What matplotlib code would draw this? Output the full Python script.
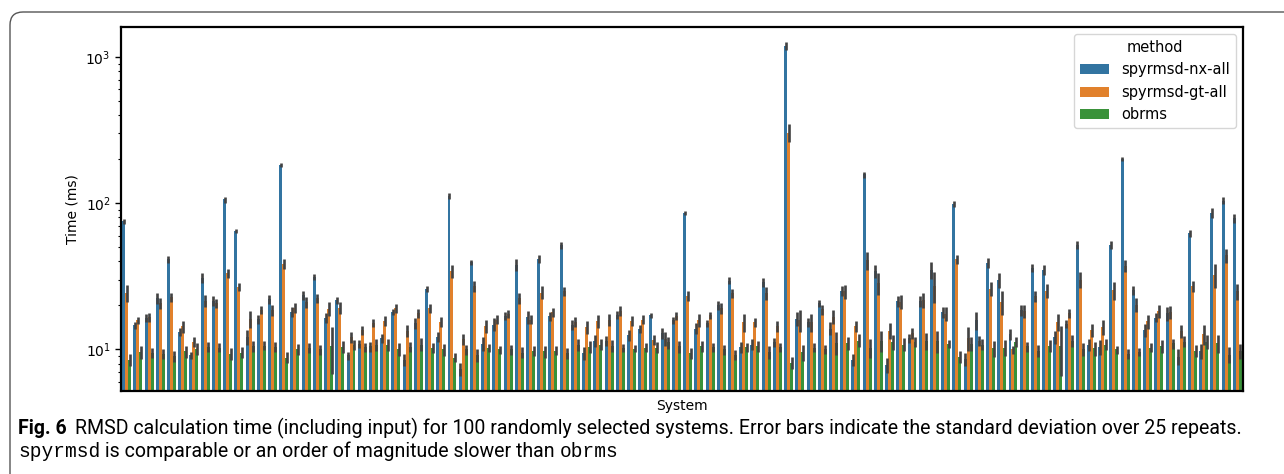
import numpy as np
import matplotlib
matplotlib.use("Agg")
import matplotlib.pyplot as plt
from matplotlib.patches import FancyBboxPatch, Patch
from matplotlib.transforms import IdentityTransform

# ---------------- data ----------------
methods = ["spyrmsd-nx-all", "spyrmsd-gt-all", "obrms"]
colors = ["#3274a1", "#e1812c", "#3a923a"]

nx_mean = [75, 14.6, 16.4, 22.3, 41.3, 13.2, 9.1, 30.8, 21.4, 106,
           64.5, 12.2, 16.1, 22.0, 183, 18.1, 23.4, 31.3, 16.4, 21.7,
           9.1, 10.9, 10.5, 11.9, 18.1, 8.5, 15.1, 25.9, 12.2, 112,
           7.3, 39.4, 10.9, 14.8, 16.9, 37.8, 16.7, 41.6, 16.8, 51.5,
           14.7, 9.4, 11.4, 11.4, 17.2, 12.5, 13.8, 17.1, 12.9, 15.8,
           86, 13.9, 15.1, 20.0, 29.5, 10.4, 10.8, 28.8, 11.2, 1180,
           16.2, 15.3, 20.7, 13.9, 25.1, 8.5, 157, 34.2, 7.8, 21.5,
           11.9, 21.3, 34.9, 17.9, 99, 8.6, 15.8, 39.0, 29.7, 12.7,
           18.5, 36.1, 34.9, 12.2, 14.9, 51.6, 10.7, 10.4, 51.9, 200,
           25.4, 13.5, 16.5, 17.7, 8.9, 62.4, 9.7, 85.5, 104, 78.9]
nx_sd = [3.0, 0.77, 1.04, 1.94, 2.17, 0.83, 0.5, 2.35, 1.63, 5.0,
         2.2, 1.44, 1.14, 1.56, 5.8, 1.38, 1.66, 1.48, 1.29, 1.2,
         0.57, 0.69, 0.83, 0.85, 0.9, 0.8, 1.31, 1.23, 0.87, 5.9,
         0.75, 1.55, 1.2, 1.52, 1.07, 3.58, 1.71, 2.63, 1.19, 2.84,
         1.16, 0.96, 1.08, 0.9, 1.09, 0.99, 0.87, 0.67, 1.12, 0.87,
         2.7, 1.21, 0.83, 1.42, 1.63, 0.9, 0.94, 2.05, 0.8, 74,
         1.79, 1.09, 1.14, 1.43, 1.98, 0.74, 7.4, 3.5, 0.92, 1.87,
         0.85, 1.85, 4.4, 1.55, 4.7, 0.9, 2.12, 3.08, 3.5, 1.1,
         1.6, 2.28, 2.75, 1.25, 0.94, 3.26, 1.01, 1.23, 3.28, 6.3,
         1.8, 1.38, 1.17, 1.96, 1.12, 3.45, 1.15, 6.7, 5.7, 5.6]

gt_mean = [24.3, 15.8, 16.6, 20.7, 22.7, 14.4, 11.3, 21.5, 20.7, 33.2,
           26.8, 16.2, 18.6, 18.5, 38.4, 19.2, 21.0, 22.3, 19.0, 19.3,
           12.1, 13.5, 15.1, 15.6, 19.1, 13.4, 17.7, 19.1, 15.4, 34.2,
           11.7, 27.0, 14.4, 16.0, 17.5, 22.3, 16.0, 24.5, 17.9, 24.9,
           15.4, 14.3, 15.6, 15.9, 18.3, 15.6, 16.0, 11.6, 11.8, 16.9,
           23.2, 15.8, 17.1, 19.1, 24.2, 15.3, 15.3, 24.2, 14.4, 303,
           15.9, 15.3, 18.8, 16.7, 24.9, 14.4, 40.9, 28.5, 13.4, 21.1,
           12.9, 21.7, 27.2, 17.5, 41.3, 12.0, 11.5, 25.9, 21.1, 10.0,
           18.3, 23.1, 25.1, 15.5, 17.7, 29.9, 13.6, 14.3, 25.5, 37.4,
           20.2, 15.6, 18.3, 17.9, 13.3, 27.0, 12.7, 32.3, 43.9, 24.9]
gt_sd = [3.1, 0.83, 1.22, 1.9, 1.55, 1.36, 0.92, 1.98, 1.52, 2.27,
         1.62, 2.2, 1.17, 1.56, 3.0, 1.51, 1.82, 1.58, 2.0, 1.78,
         1.02, 0.96, 0.95, 1.23, 1.31, 1.27, 1.26, 1.36, 1.22, 3.5,
         1.02, 2.34, 1.48, 1.14, 1.1, 1.94, 1.14, 2.51, 1.27, 1.77,
         1.22, 1.47, 1.6, 1.5, 1.44, 1.23, 1.14, 0.92, 1.3, 1.07,
         1.83, 1.62, 0.94, 1.66, 1.72, 2.05, 1.09, 2.48, 1.14, 43,
         2.76, 2.05, 1.48, 1.84, 2.75, 1.14, 5.8, 4.9, 1.69, 2.33,
         1.02, 2.57, 6.4, 1.93, 2.93, 2.18, 0.91, 2.86, 4.0, 0.63,
         1.88, 2.0, 2.77, 2.08, 1.26, 3.77, 1.4, 1.69, 3.62, 3.54,
         2.23, 1.72, 1.88, 1.84, 1.36, 2.34, 1.9, 5.9, 4.85, 3.14]

ob_mean = [8.5, 9.6, 9.5, 9.3, 9.0, 9.7, 10.1, 10.4, 10.3, 9.3,
           9.5, 10.5, 10.6, 10.4, 8.8, 10.0, 10.2, 10.0, 10.5, 10.4,
           10.7, 10.4, 10.7, 10.7, 10.1, 10.4, 10.8, 10.2, 10.0, 8.8,
           10.0, 9.2, 10.2, 10.0, 10.0, 9.5, 9.8, 9.7, 9.8, 9.4,
           10.7, 10.4, 10.8, 10.6, 10.2, 10.1, 10.3, 10.3, 11.2, 10.5,
           9.4, 10.5, 10.4, 10.0, 9.2, 10.4, 10.5, 9.6, 10.4, 8.1,
           9.6, 10.3, 10.0, 11.1, 11.0, 11.5, 10.3, 11.5, 11.3, 10.8,
           11.2, 11.5, 11.4, 10.9, 8.9, 10.9, 10.8, 10.2, 10.3, 11.2,
           10.5, 9.8, 10.6, 10.5, 11.5, 10.0, 10.2, 10.8, 10.0, 9.3,
           9.6, 10.3, 10.6, 11.0, 11.3, 9.8, 11.3, 11.0, 9.2, 9.7]
ob_sd = [0.74, 0.93, 0.7, 0.73, 0.76, 0.89, 0.96, 0.77, 0.73, 0.88,
         0.82, 0.88, 0.75, 0.82, 0.76, 0.87, 0.8, 0.79, 3.75, 0.98,
         0.84, 0.74, 1.01, 1.01, 1.04, 0.82, 1.11, 0.8, 0.95, 0.62,
         0.79, 0.94, 0.64, 0.63, 0.79, 0.82, 0.77, 0.92, 0.7, 0.82,
         1.01, 0.98, 0.94, 0.92, 0.64, 0.56, 0.73, 0.89, 1.06, 0.99,
         0.82, 0.91, 0.74, 0.79, 0.73, 0.74, 0.91, 0.98, 0.74, 0.77,
         1.21, 0.73, 0.71, 2.0, 1.13, 1.18, 1.54, 1.9, 1.34, 1.11,
         0.88, 1.54, 1.98, 0.69, 0.84, 1.2, 0.94, 1.29, 1.22, 0.88,
         0.83, 0.85, 0.92, 3.9, 1.09, 1.03, 1.13, 0.94, 0.63, 0.73,
         0.61, 0.73, 1.09, 0.87, 0.98, 0.85, 1.25, 1.48, 1.16, 1.15]

means = [nx_mean, gt_mean, ob_mean]
sds = [nx_sd, gt_sd, ob_sd]

# ---------------- figure ----------------
W, H = 1284, 474
fig = plt.figure(figsize=(W / 100, H / 100), dpi=100)
fig.patch.set_facecolor("white")

# outer rounded frame of the journal figure
frame = FancyBboxPatch((10, -30), W + 40, H - 12 + 30,
                       boxstyle="round,pad=0,rounding_size=13",
                       transform=IdentityTransform(), facecolor="none",
                       edgecolor="#555555", linewidth=1.0)
fig.patches.append(frame)

ax = fig.add_axes([121 / W, 1 - 391 / H, (1243 - 121) / W, (391 - 27) / H])

n = len(nx_mean)
x = np.arange(n)
bw = 0.8 / 3
for k in range(3):
    xs = x + (k - 1) * bw
    ax.bar(xs, means[k], width=bw, color=colors[k], label=methods[k],
           linewidth=0, zorder=2)
    ax.errorbar(xs, means[k], yerr=sds[k], fmt="none", ecolor="#424242",
                elinewidth=1.9, capsize=0, zorder=3)

ax.set_yscale("log")
ax.set_ylim(5.2, 1600)
ax.set_xlim(-0.5, n - 0.5)
ax.set_xticks([])
ax.set_xlabel("System", fontsize=10, labelpad=6)
ax.set_ylabel("Time (ms)", fontsize=10)
ax.tick_params(axis="y", which="major", length=4, width=1.0, labelsize=10)
ax.tick_params(axis="y", which="minor", length=2.5, width=0.8)
for sp in ax.spines.values():
    sp.set_linewidth(1.6)

handles = [Patch(facecolor=c, label=m) for c, m in zip(colors, methods)]
ax.legend(handles=handles, title="method", loc="upper right", fontsize=10.5,
          title_fontsize=10.5)

# ---------------- caption ----------------
fig.canvas.draw()
renderer = fig.canvas.get_renderer()
cap_font = "Roboto"
mono_font = "Liberation Mono"

line1_a = "Fig. 6"
line1_b = "RMSD calculation time (including input) for 100 randomly selected systems. Error bars indicate the standard deviation over 25 repeats."

size = 12.0
def put(xp, yp, s, **kw):
    return fig.text(xp, yp, s, transform=IdentityTransform(), va="baseline", **kw)

def width_of(t):
    return t.get_window_extent(renderer).width

# fit line 1 to its width in the reference (x 18 .. 1236)
t1 = put(18, H - 434, line1_a, family=cap_font, weight="bold", fontsize=size)
t2 = put(0, H - 434, line1_b, family=cap_font, fontsize=size)
total = width_of(t1) + 0.45 * size * 1.39 + width_of(t2)
size = size * (1236 - 18) / total
t1.set_fontsize(size)
t2.set_fontsize(size)
w1 = width_of(t1)
t2.set_x(18 + w1 + 0.45 * size * 1.39)

base2 = H - 457
s1 = put(18, base2, "spyrmsd", family=mono_font, fontsize=size)
xw = 18 + width_of(s1)
s2 = put(xw, base2, " is comparable or an order of magnitude slower than ",
         family=cap_font, fontsize=size)
xw += width_of(s2)
s3 = put(xw, base2, "obrms", family=mono_font, fontsize=size)

fig.savefig("out.png", dpi=100, facecolor="white")
